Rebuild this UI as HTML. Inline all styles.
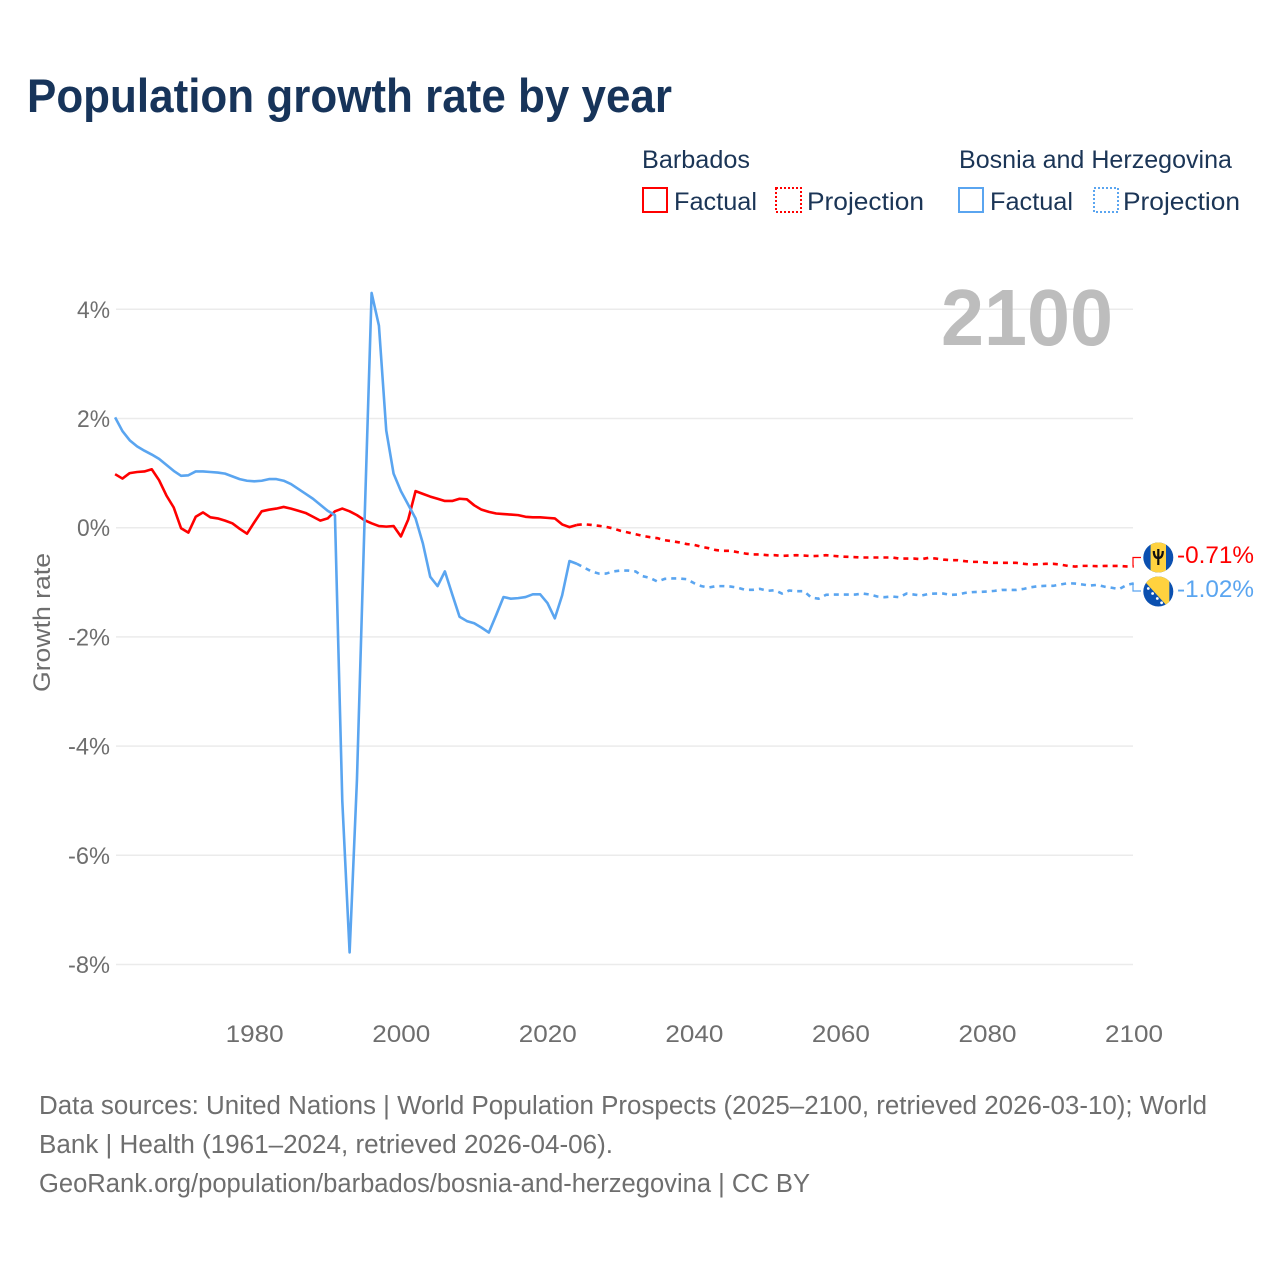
<!DOCTYPE html>
<html lang="en">
<head>
<meta charset="utf-8">
<title>Population growth rate by year</title>
<style>
html,body{margin:0;padding:0;background:#fff;}
svg{display:block;}
text{font-family:"Liberation Sans",sans-serif;}
</style>
</head>
<body>
<svg id="chart" xmlns="http://www.w3.org/2000/svg" width="1280" height="1280" viewBox="0 0 1280 1280">
  <rect x="0" y="0" width="1280" height="1280" fill="#ffffff"/>
  <text x="27" y="112" font-size="47" font-weight="700" fill="#17345a" textLength="645" lengthAdjust="spacingAndGlyphs">Population growth rate by year</text>

  <g>
    <text x="642" y="168" font-size="25" fill="#1b3556" textLength="108" lengthAdjust="spacingAndGlyphs">Barbados</text>
    <text x="959" y="168" font-size="25" fill="#1b3556" textLength="273" lengthAdjust="spacingAndGlyphs">Bosnia and Herzegovina</text>
    <rect x="643" y="188" width="24" height="24" fill="none" stroke="#ff0000" stroke-width="2"/>
    <text x="674" y="210" font-size="25" fill="#1b3556" textLength="83" lengthAdjust="spacingAndGlyphs">Factual</text>
    <rect x="776" y="188" width="25" height="24" fill="none" stroke="#ff0000" stroke-width="2" stroke-dasharray="2 2"/>
    <text x="807" y="210" font-size="25" fill="#1b3556" textLength="117" lengthAdjust="spacingAndGlyphs">Projection</text>
    <rect x="959" y="188" width="24" height="24" fill="none" stroke="#5aa5f0" stroke-width="2"/>
    <text x="990" y="210" font-size="25" fill="#1b3556" textLength="83" lengthAdjust="spacingAndGlyphs">Factual</text>
    <rect x="1094" y="188" width="24" height="24" fill="none" stroke="#5aa5f0" stroke-width="2" stroke-dasharray="2 2"/>
    <text x="1123" y="210" font-size="25" fill="#1b3556" textLength="117" lengthAdjust="spacingAndGlyphs">Projection</text>
  </g>

  <g id="grid"></g>
  <g id="yticks"></g>
  <g id="xticks"></g>

  <text transform="translate(50,692) rotate(-90)" x="0" y="0" font-size="24.5" fill="#6e6e6e" textLength="139" lengthAdjust="spacingAndGlyphs">Growth rate</text>
  <text x="941" y="345" font-size="80" font-weight="700" fill="#bdbdbd" textLength="172" lengthAdjust="spacingAndGlyphs">2100</text>

  <g id="series"></g>

  <g>
    <clipPath id="clip-bb"><circle cx="1158.3" cy="557.5" r="15"/></clipPath>
    <g clip-path="url(#clip-bb)">
      <rect x="1143" y="542" width="31" height="31" fill="#0b50b0"/>
      <rect x="1150.6" y="542" width="15.4" height="31" fill="#ffd23f"/>
      <path d="M1158.3 549 v16 M1153.8 551 c0 5 1.8 7 4.5 7 c2.7 0 4.5 -2 4.5 -7" fill="none" stroke="#111111" stroke-width="2.2"/>
    </g>
  </g>
  <g>
    <clipPath id="clip-ba"><circle cx="1158.3" cy="591.5" r="15"/></clipPath>
    <g clip-path="url(#clip-ba)">
      <rect x="1143" y="576" width="31" height="31" fill="#0b50b0"/>
      <polygon points="1138.3,574.5 1138.3,571.5 1169.3,571.5 1169.3,608.4" fill="#ffd23f"/>
      <circle cx="1148.3" cy="588.5" r="1.4" fill="#ffffff"/>
      <circle cx="1152.6" cy="593.5" r="1.4" fill="#ffffff"/>
      <circle cx="1157.3" cy="598.5" r="1.4" fill="#ffffff"/>
      <circle cx="1161.6" cy="602.8" r="1.4" fill="#ffffff"/>
    </g>
  </g>
  <text x="1177" y="563" font-size="24" fill="#ff0000" textLength="77" lengthAdjust="spacingAndGlyphs">-0.71%</text>
  <text x="1177" y="597" font-size="24" fill="#5aa5f0" textLength="77" lengthAdjust="spacingAndGlyphs">-1.02%</text>

  <g font-size="25.5" fill="#6e6e6e">
    <text x="39" y="1114" textLength="1168" lengthAdjust="spacingAndGlyphs">Data sources: United Nations | World Population Prospects (2025–2100, retrieved 2026-03-10); World</text>
    <text x="39" y="1153" textLength="574" lengthAdjust="spacingAndGlyphs">Bank | Health (1961–2024, retrieved 2026-04-06).</text>
    <text x="39" y="1192" textLength="771" lengthAdjust="spacingAndGlyphs">GeoRank.org/population/barbados/bosnia-and-herzegovina | CC BY</text>
  </g>
</svg>
<script>
const factualStartYear = 1961;
const projectionStartYear = 2024;
const xTickYears = [1980, 2000, 2020, 2040, 2060, 2080, 2100];
const yTickValues = [4, 2, 0, -2, -4, -6, -8];
const barbadosFactual = [0.98,0.90,1.00,1.02,1.03,1.07,0.87,0.59,0.37,-0.01,-0.09,0.20,0.28,0.19,0.17,0.13,0.08,-0.02,-0.11,0.10,0.30,0.33,0.35,0.38,0.35,0.31,0.27,0.20,0.13,0.17,0.30,0.35,0.30,0.23,0.14,0.08,0.03,0.02,0.03,-0.16,0.15,0.67,0.62,0.57,0.53,0.49,0.49,0.53,0.52,0.41,0.33,0.29,0.26,0.25,0.24,0.23,0.20,0.19,0.19,0.18,0.17,0.06,0.01,0.05];
const barbadosProjection = [0.05,0.064,0.05,0.034,0.015,-0.015,-0.058,-0.088,-0.119,-0.15,-0.174,-0.192,-0.229,-0.247,-0.27,-0.30,-0.314,-0.35,-0.375,-0.41,-0.424,-0.424,-0.449,-0.473,-0.49,-0.49,-0.504,-0.504,-0.516,-0.51,-0.504,-0.51,-0.52,-0.516,-0.504,-0.516,-0.528,-0.534,-0.54,-0.546,-0.546,-0.546,-0.546,-0.546,-0.565,-0.565,-0.565,-0.577,-0.553,-0.565,-0.583,-0.595,-0.595,-0.614,-0.626,-0.626,-0.638,-0.644,-0.644,-0.644,-0.644,-0.662,-0.675,-0.669,-0.662,-0.662,-0.675,-0.699,-0.711,-0.699,-0.699,-0.705,-0.70,-0.70,-0.70,-0.71,-0.71];
const bosniaFactual = [2.02,1.77,1.60,1.49,1.41,1.34,1.26,1.15,1.04,0.95,0.96,1.03,1.03,1.02,1.01,0.99,0.94,0.89,0.86,0.85,0.86,0.89,0.89,0.86,0.80,0.71,0.62,0.53,0.42,0.31,0.23,-5.0,-7.78,-4.62,-0.05,4.3,3.7,1.78,0.99,0.67,0.42,0.17,-0.29,-0.90,-1.07,-0.80,-1.22,-1.63,-1.71,-1.75,-1.83,-1.92,-1.60,-1.27,-1.30,-1.29,-1.27,-1.22,-1.22,-1.38,-1.66,-1.24,-0.61,-0.66];
const bosniaProjection = [-0.66,-0.73,-0.80,-0.84,-0.84,-0.80,-0.785,-0.785,-0.80,-0.888,-0.92,-0.986,-0.937,-0.93,-0.93,-0.943,-1.016,-1.07,-1.096,-1.07,-1.07,-1.078,-1.10,-1.138,-1.138,-1.12,-1.157,-1.145,-1.206,-1.15,-1.163,-1.163,-1.28,-1.30,-1.23,-1.224,-1.224,-1.224,-1.224,-1.206,-1.224,-1.26,-1.273,-1.26,-1.273,-1.206,-1.224,-1.243,-1.212,-1.206,-1.206,-1.23,-1.224,-1.194,-1.18,-1.175,-1.169,-1.157,-1.139,-1.139,-1.139,-1.12,-1.09,-1.07,-1.065,-1.065,-1.04,-1.017,-1.023,-1.04,-1.06,-1.047,-1.08,-1.10,-1.127,-1.05,-1.02];

const NS = 'http://www.w3.org/2000/svg';
const xScale = function (year) { return 115.1 + (year - 1961) * 7.3285; };
const yScale = function (value) { return 527.7 - value * 54.6; };

function linePath(startYear, values) {
  return values.map(function (v, i) {
    return (i === 0 ? 'M' : 'L') + xScale(startYear + i).toFixed(2) + ' ' + yScale(v).toFixed(2);
  }).join(' ');
}

const grid = document.getElementById('grid');
const yticks = document.getElementById('yticks');
const xticks = document.getElementById('xticks');
const series = document.getElementById('series');

yTickValues.forEach(function (v) {
  const line = document.createElementNS(NS, 'line');
  
  
  line.setAttribute('x1', 116);
  line.setAttribute('x2', 1133);
  line.setAttribute('y1', yScale(v));
  line.setAttribute('y2', yScale(v));
  line.setAttribute('stroke', '#ebebeb');
  line.setAttribute('stroke-width', 1.5);
  grid.appendChild(line);
  const label = document.createElementNS(NS, 'text');
  
  
  label.setAttribute('x', v < 0 ? 68 : 77);
  label.setAttribute('y', yScale(v) + 8.5);
  label.setAttribute('font-size', 24);
  label.setAttribute('fill', '#6e6e6e');
  label.setAttribute('textLength', v < 0 ? 42 : 33);
  label.setAttribute('lengthAdjust', 'spacingAndGlyphs');
  label.textContent = v + '%';
  yticks.appendChild(label);
});

xTickYears.forEach(function (year) {
  const label = document.createElementNS(NS, 'text');
  
  
  label.setAttribute('x', xScale(year) - 28.7);
  label.setAttribute('y', 1042);
  label.setAttribute('font-size', 24.5);
  label.setAttribute('fill', '#6e6e6e');
  label.setAttribute('textLength', 58);
  label.setAttribute('lengthAdjust', 'spacingAndGlyphs');
  label.textContent = String(year);
  xticks.appendChild(label);
});

function addLine(name, startYear, values, color, dash) {
  const path = document.createElementNS(NS, 'path');
  
  
  path.setAttribute('d', linePath(startYear, values));
  path.setAttribute('fill', 'none');
  path.setAttribute('stroke', color);
  path.setAttribute('stroke-width', 2.6);
  path.setAttribute('stroke-linejoin', 'round');
  if (dash) { path.setAttribute('stroke-dasharray', dash); }
  series.appendChild(path);
}

function addConnector(name, value, labelY, color) {
  const path = document.createElementNS(NS, 'path');
  
  
  path.setAttribute('d', 'M1133 ' + yScale(value).toFixed(2) + ' V' + labelY + ' H1141');
  path.setAttribute('fill', 'none');
  path.setAttribute('stroke', color);
  path.setAttribute('stroke-width', 1.2);
  series.appendChild(path);
}

addLine('barbados-projection-line', projectionStartYear, barbadosProjection, '#ff0000', '5 5');
addLine('barbados-factual-line', factualStartYear, barbadosFactual, '#ff0000', null);
addLine('bosnia-projection-line', projectionStartYear, bosniaProjection, '#5aa5f0', '5 5');
addLine('bosnia-factual-line', factualStartYear, bosniaFactual, '#5aa5f0', null);
addConnector('barbados-end-connector', barbadosProjection[barbadosProjection.length - 1], 557.5, '#ff0000');
addConnector('bosnia-end-connector', bosniaProjection[bosniaProjection.length - 1], 591, '#5aa5f0');
</script>
</body>
</html>
